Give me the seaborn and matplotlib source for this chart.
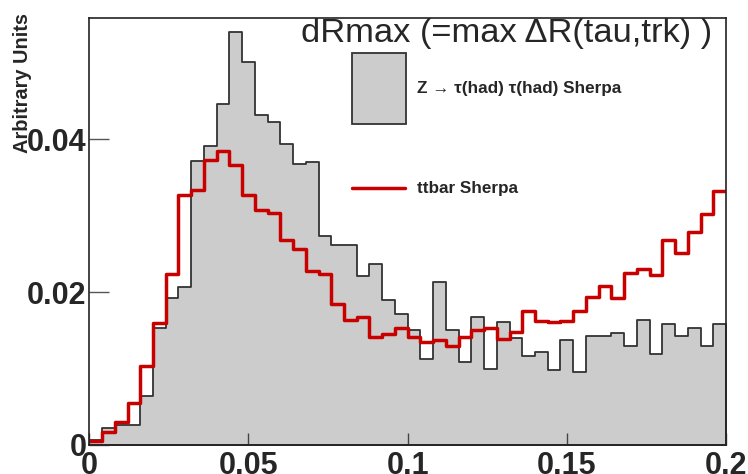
import numpy as np
import pandas as pd
import matplotlib
matplotlib.use("Agg")
import matplotlib.pyplot as plt
import seaborn as sns
from matplotlib.patches import Rectangle
from matplotlib.lines import Line2D

# ---------------- data ----------------
bin_edges = [round(0.004 * i, 3) for i in range(51)]

z_values = [0.0006, 0.0022, 0.0026, 0.0026, 0.0064, 0.0153, 0.0192, 0.0206, 0.0372, 0.0391,
            0.0446, 0.0540, 0.0501, 0.0432, 0.0422, 0.0394, 0.0367, 0.0370, 0.0273, 0.0262,
            0.0262, 0.0221, 0.0237, 0.0189, 0.0171, 0.0151, 0.0112, 0.0213, 0.0151, 0.0108,
            0.0168, 0.0099, 0.0161, 0.0140, 0.0116, 0.0122, 0.0098, 0.0137, 0.0096, 0.0143,
            0.0143, 0.0147, 0.0129, 0.0163, 0.0119, 0.0158, 0.0143, 0.0153, 0.0129, 0.0158]

tt_values = [0.0005, 0.0017, 0.0030, 0.0055, 0.0103, 0.0159, 0.0223, 0.0327, 0.0334, 0.0373,
             0.0385, 0.0366, 0.0327, 0.0308, 0.0304, 0.0268, 0.0256, 0.0227, 0.0223, 0.0184,
             0.0163, 0.0168, 0.0141, 0.0145, 0.0153, 0.0141, 0.0135, 0.0137, 0.0130, 0.0141,
             0.0150, 0.0153, 0.0139, 0.0148, 0.0175, 0.0162, 0.0161, 0.0162, 0.0175, 0.0193,
             0.0208, 0.0192, 0.0225, 0.0230, 0.0222, 0.0268, 0.0251, 0.0278, 0.0302, 0.0332]

x_ticks = [0.0, 0.05, 0.1, 0.15, 0.2]
x_tick_labels = ["0", "0.05", "0.1", "0.15", "0.2"]
y_ticks = [0.0, 0.02, 0.04]
y_tick_labels = ["0", "0.02", "0.04"]

title_text = "dRmax (=max \u0394R(tau,trk) )"
ylabel_text = "Arbitrary Units"
label_z = "Z \u2192 \u03c4(had) \u03c4(had) Sherpa"
label_tt = "ttbar Sherpa"

# ---------------- style ----------------
sns.set_theme(style="white")
plt.rcParams['font.family'] = ['Liberation Sans', 'DejaVu Sans']

gray_fill = "#cccccc"
gray_edge = "#333333"
red = "#c80000"

edges = np.array(bin_edges)
centers = 0.5 * (edges[:-1] + edges[1:])
df = pd.DataFrame({"x": centers, "z": z_values, "tt": tt_values})

W, H = 748, 474
fig = plt.figure(figsize=(W / 100, H / 100), dpi=100)
fig.patch.set_facecolor("white")
x0, x1, yb, yt = 89.3, 726.0, 445.0, 17.6
ax = fig.add_axes([x0 / W, 1 - yb / H, (x1 - x0) / W, (yb - yt) / H])
ax.set_facecolor("white")

sns.histplot(data=df, x="x", weights="z", bins=bin_edges, element="step", fill=True,
             color=gray_fill, edgecolor=gray_edge, linewidth=1.3, alpha=1.0, ax=ax)
sns.histplot(data=df, x="x", weights="tt", bins=bin_edges, element="step", fill=False,
             color=red, linewidth=2.5, ax=ax)

ax.set_xlim(0, 0.2)
ax.set_ylim(0, 0.0559)
ax.set_xlabel("")
ax.set_ylabel("")
ax.set_axisbelow(False)

ax.set_xticks(x_ticks)
ax.set_xticklabels(x_tick_labels)
ax.set_yticks(y_ticks)
ax.set_yticklabels(y_tick_labels)
ax.tick_params(axis="x", direction="in", length=8.6, width=1.0, color="#444444",
               pad=4.3, labelsize=22, top=False, bottom=True)
ax.tick_params(axis="y", direction="in", length=14.4, width=1.0, color="#555555",
               pad=2, labelsize=22, right=False, left=True)
for lab in ax.get_xticklabels() + ax.get_yticklabels():
    lab.set_fontweight("bold")
ax.minorticks_off()

for s in ax.spines.values():
    s.set_visible(True)
    s.set_color("#222222")
    s.set_linewidth(1.2)
    s.set_zorder(5)

fig.text(23 / W, 1 - 83 / H, ylabel_text, rotation=90, ha="center", va="center",
         fontsize=14.4, fontweight="bold")
fig.text(712 / W, 1 - 18 / H, title_text, ha="right", va="top", fontsize=24.8)

# legend (drawn as figure artists, ROOT TLegend style)
fig.add_artist(Rectangle((351.7 / W, 1 - 124.0 / H), 54.0 / W, 70.7 / H,
                         transform=fig.transFigure, facecolor=gray_fill,
                         edgecolor=gray_edge, linewidth=1.3))
fig.add_artist(Line2D([351.7 / W, 405.0 / W], [1 - 188.3 / H, 1 - 188.3 / H],
                      transform=fig.transFigure, color=red, linewidth=2.5))
fig.text(416.7 / W, 1 - 88.5 / H, label_z, ha="left", va="center",
         fontsize=12.3, fontweight="bold")
fig.text(416.7 / W, 1 - 188.3 / H, label_tt, ha="left", va="center",
         fontsize=12.3, fontweight="bold")

fig.savefig("out.png", dpi=100, facecolor="white")
